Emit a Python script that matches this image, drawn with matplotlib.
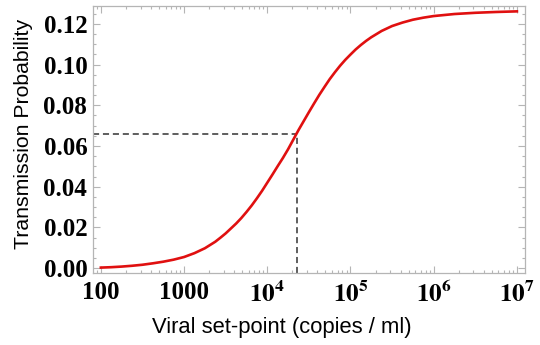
import numpy as np
import matplotlib
matplotlib.use("Agg")
from matplotlib import pyplot as plt
from matplotlib.ticker import FixedLocator, LogLocator, MultipleLocator, NullFormatter

# log10 of the viral set-point (copies / ml)
log_setpoint = [2.0, 2.125, 2.25, 2.375, 2.5, 2.625, 2.75, 2.875,
                3.0, 3.125, 3.25, 3.3125, 3.375, 3.4375, 3.5, 3.5625,
                3.625, 3.6875, 3.75, 3.8125, 3.875, 3.9375, 4.0, 4.0625,
                4.125, 4.1875, 4.25, 4.3125, 4.375, 4.4375, 4.5, 4.5625,
                4.625, 4.6875, 4.75, 4.8125, 4.875, 4.9375, 5.0, 5.0625,
                5.125, 5.1875, 5.25, 5.375, 5.5, 5.625, 5.75, 5.875,
                6.0, 6.25, 6.5, 6.75, 7.0]
# transmission probability at each set-point
trans_prob = [0.0003, 0.0005, 0.0008, 0.0012, 0.0017, 0.0024, 0.0032, 0.0042,
              0.0055, 0.0074, 0.0098, 0.0114, 0.0130, 0.0150, 0.0171, 0.0195,
              0.0219, 0.0246, 0.0276, 0.0308, 0.0343, 0.0380, 0.0420, 0.0460,
              0.0501, 0.0541, 0.0584, 0.0631, 0.0678, 0.0722, 0.0766, 0.0809,
              0.0851, 0.0890, 0.0928, 0.0962, 0.0994, 0.1023, 0.1049, 0.1074,
              0.1096, 0.1116, 0.1134, 0.1165, 0.1189, 0.1206, 0.1220, 0.1230,
              0.1238, 0.1248, 0.1254, 0.1258, 0.1261]

# marked point on the curve
mark_x = 2.25e4
mark_y = 0.066

xticks = [1e2, 1e3, 1e4, 1e5, 1e6, 1e7]
xticklabels = ['100', '1000', r'$\mathbf{10^{4}}$', r'$\mathbf{10^{5}}$',
               r'$\mathbf{10^{6}}$', r'$\mathbf{10^{7}}$']
yticks = [0.0, 0.02, 0.04, 0.06, 0.08, 0.10, 0.12]
yticklabels = ['0.00', '0.02', '0.04', '0.06', '0.08', '0.10', '0.12']

plt.rcParams['mathtext.fontset'] = 'stix'

def main():
    fig = plt.figure(figsize=(5.4, 3.45), dpi=100)
    ax = fig.add_axes([0.172, 0.209, 0.8, 0.774])

    xmin, xmax = 10 ** 1.904, 10 ** 7.096
    ymin, ymax = -0.0023, 0.1288

    x = 10 ** np.array(log_setpoint)
    ax.plot(x, trans_prob, color='#e01010', lw=1.9, zorder=3)

    ax.plot([xmin, mark_x], [mark_y, mark_y], ls=(0, (4, 2.5)),
            color='#333333', lw=1.1)
    ax.plot([mark_x, mark_x], [ymin, mark_y], ls=(0, (4, 2.5)),
            color='#333333', lw=1.1)

    ax.set_xscale('log')
    ax.set_xlim(xmin, xmax)
    ax.set_ylim(ymin, ymax)

    ax.xaxis.set_major_locator(FixedLocator(xticks))
    ax.set_xticklabels(xticklabels)
    ax.xaxis.set_minor_locator(LogLocator(base=10, subs=np.arange(2, 10)))
    ax.xaxis.set_minor_formatter(NullFormatter())
    ax.set_yticks(yticks)
    ax.set_yticklabels(yticklabels)
    ax.yaxis.set_minor_locator(MultipleLocator(0.005))

    for lab in ax.get_xticklabels() + ax.get_yticklabels():
        lab.set_family('Liberation Serif')
        lab.set_weight('bold')
        lab.set_fontsize(18)

    ax.tick_params(which='both', direction='in', top=True, right=True,
                   color='#b5b5b5', width=0.8)
    ax.tick_params(which='major', length=5, pad=4)
    ax.tick_params(which='minor', length=2.5)
    ax.tick_params(axis='x', pad=6)
    for sp in ax.spines.values():
        sp.set_color('#b5b5b5')
        sp.set_linewidth(0.9)

    ax.set_xlabel('Viral set-point (copies / ml)', family='Liberation Sans',
                  fontsize=15.8)
    ax.xaxis.set_label_coords(0.4375, -0.165)
    ax.set_ylabel('Transmission Probability', family='Liberation Sans',
                  fontsize=15.3)
    ax.yaxis.set_label_coords(-0.139, 0.52)

    fig.savefig('out.png', dpi=100)

if __name__ == "__main__":
    main()
